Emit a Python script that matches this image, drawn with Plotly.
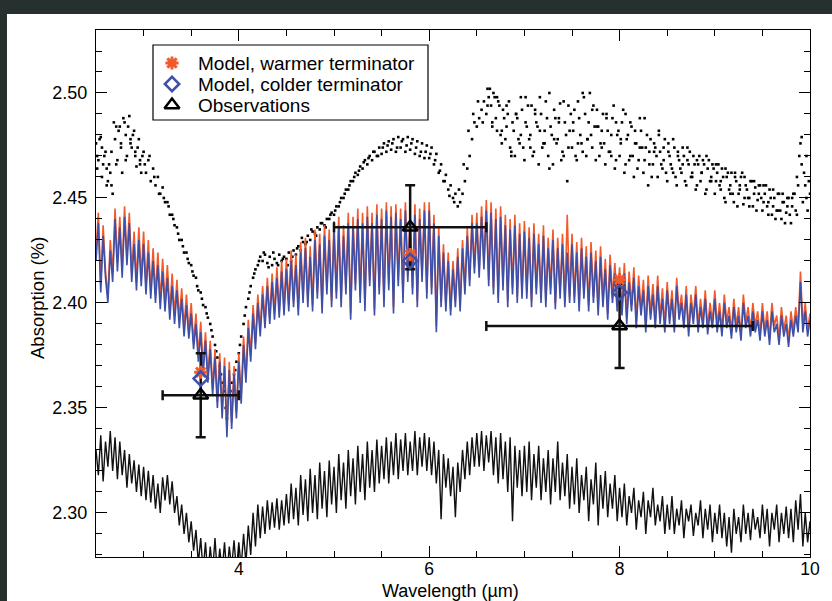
import numpy as np
import plotly.graph_objects as go

# wavelength sampling grids (micron)
wl = np.round(np.linspace(2.5, 10.0, 301), 4)
wl_b = np.round(np.linspace(2.5125, 9.9625, 150), 4)
wl_c = np.round(np.concatenate([np.linspace(2.5125, 2.9875, 20), np.linspace(6.6125, 9.9875, 136)]), 4)

# Model spectrum, warmer terminator (%)
warm = [
    2.425, 2.443, 2.408, 2.437, 2.415, 2.403, 2.430, 2.414, 2.445, 2.419, 2.441, 2.416, 2.446, 2.422, 2.443, 2.414, 2.434, 2.410, 2.436, 2.412,
    2.434, 2.408, 2.430, 2.406, 2.426, 2.404, 2.424, 2.401, 2.421, 2.400, 2.418, 2.396, 2.414, 2.394, 2.411, 2.392, 2.407, 2.388, 2.404, 2.386,
    2.400, 2.381, 2.395, 2.375, 2.391, 2.369, 2.386, 2.365, 2.382, 2.359, 2.378, 2.353, 2.376, 2.348, 2.374, 2.340, 2.372, 2.343, 2.370, 2.348,
    2.376, 2.355, 2.384, 2.365, 2.392, 2.375, 2.399, 2.381, 2.404, 2.387, 2.408, 2.391, 2.412, 2.393, 2.414, 2.395, 2.417, 2.396, 2.420, 2.397,
    2.421, 2.399, 2.425, 2.401, 2.423, 2.397, 2.429, 2.403, 2.431, 2.401, 2.427, 2.399, 2.435, 2.405, 2.433, 2.398, 2.437, 2.407, 2.435, 2.401,
    2.439, 2.405, 2.441, 2.401, 2.437, 2.407, 2.443, 2.395, 2.441, 2.409, 2.445, 2.403, 2.443, 2.399, 2.446, 2.411, 2.443, 2.397, 2.447, 2.407,
    2.445, 2.401, 2.448, 2.409, 2.446, 2.398, 2.447, 2.411, 2.445, 2.403, 2.448, 2.413, 2.443, 2.407, 2.447, 2.401, 2.445, 2.413, 2.448, 2.405,
    2.448, 2.407, 2.442, 2.389, 2.436, 2.401, 2.428, 2.399, 2.424, 2.397, 2.420, 2.401, 2.426, 2.399, 2.430, 2.407, 2.436, 2.411, 2.442, 2.417,
    2.443, 2.415, 2.446, 2.419, 2.449, 2.411, 2.448, 2.407, 2.445, 2.403, 2.446, 2.409, 2.442, 2.401, 2.440, 2.407, 2.442, 2.403, 2.438, 2.405,
    2.439, 2.405, 2.436, 2.401, 2.438, 2.407, 2.433, 2.403, 2.437, 2.401, 2.431, 2.407, 2.435, 2.400, 2.431, 2.405, 2.433, 2.401, 2.442, 2.403,
    2.433, 2.403, 2.429, 2.399, 2.431, 2.405, 2.427, 2.399, 2.429, 2.403, 2.425, 2.397, 2.427, 2.401, 2.421, 2.395, 2.423, 2.403, 2.419, 2.399,
    2.417, 2.397, 2.419, 2.393, 2.415, 2.399, 2.417, 2.391, 2.413, 2.397, 2.411, 2.389, 2.413, 2.395, 2.409, 2.391, 2.413, 2.393, 2.407, 2.389,
    2.410, 2.393, 2.406, 2.389, 2.412, 2.395, 2.404, 2.391, 2.408, 2.387, 2.404, 2.393, 2.408, 2.389, 2.402, 2.391, 2.406, 2.388, 2.400, 2.391,
    2.406, 2.389, 2.400, 2.387, 2.404, 2.391, 2.398, 2.386, 2.402, 2.389, 2.398, 2.385, 2.404, 2.391, 2.398, 2.387, 2.400, 2.389, 2.396, 2.385,
    2.400, 2.387, 2.396, 2.383, 2.400, 2.389, 2.394, 2.383, 2.398, 2.387, 2.394, 2.382, 2.396, 2.387, 2.398, 2.389, 2.415, 2.389, 2.400, 2.387, 2.395,
]

# Model spectrum, colder terminator (%)
cold = [
    2.420, 2.438, 2.405, 2.432, 2.412, 2.400, 2.425, 2.410, 2.440, 2.415, 2.436, 2.412, 2.441, 2.418, 2.438, 2.410, 2.428, 2.406, 2.430, 2.408,
    2.428, 2.404, 2.424, 2.402, 2.420, 2.400, 2.418, 2.397, 2.415, 2.396, 2.412, 2.392, 2.408, 2.390, 2.406, 2.388, 2.402, 2.384, 2.399, 2.383,
    2.395, 2.378, 2.390, 2.372, 2.386, 2.366, 2.382, 2.362, 2.378, 2.356, 2.374, 2.350, 2.372, 2.345, 2.370, 2.336, 2.368, 2.340, 2.366, 2.345,
    2.372, 2.352, 2.380, 2.362, 2.388, 2.372, 2.395, 2.378, 2.400, 2.384, 2.404, 2.388, 2.408, 2.390, 2.410, 2.392, 2.412, 2.393, 2.415, 2.394,
    2.416, 2.396, 2.420, 2.398, 2.418, 2.394, 2.424, 2.400, 2.426, 2.398, 2.422, 2.396, 2.430, 2.402, 2.428, 2.395, 2.432, 2.404, 2.430, 2.398,
    2.434, 2.402, 2.436, 2.398, 2.432, 2.404, 2.438, 2.392, 2.436, 2.406, 2.440, 2.400, 2.438, 2.396, 2.441, 2.408, 2.438, 2.394, 2.442, 2.404,
    2.440, 2.398, 2.444, 2.406, 2.441, 2.395, 2.443, 2.408, 2.440, 2.400, 2.444, 2.410, 2.438, 2.404, 2.442, 2.398, 2.440, 2.410, 2.444, 2.402,
    2.444, 2.404, 2.438, 2.386, 2.432, 2.398, 2.424, 2.396, 2.420, 2.394, 2.416, 2.398, 2.422, 2.396, 2.426, 2.404, 2.432, 2.408, 2.438, 2.414,
    2.438, 2.412, 2.441, 2.416, 2.444, 2.408, 2.443, 2.404, 2.440, 2.400, 2.441, 2.406, 2.437, 2.398, 2.435, 2.404, 2.437, 2.400, 2.433, 2.402,
    2.434, 2.402, 2.431, 2.398, 2.433, 2.404, 2.428, 2.400, 2.432, 2.398, 2.426, 2.404, 2.430, 2.397, 2.426, 2.402, 2.428, 2.398, 2.424, 2.400,
    2.428, 2.400, 2.424, 2.396, 2.426, 2.402, 2.422, 2.396, 2.424, 2.400, 2.420, 2.394, 2.422, 2.398, 2.416, 2.392, 2.418, 2.400, 2.414, 2.396,
    2.412, 2.394, 2.414, 2.390, 2.410, 2.396, 2.412, 2.388, 2.408, 2.394, 2.406, 2.386, 2.408, 2.392, 2.404, 2.388, 2.408, 2.390, 2.402, 2.386,
    2.406, 2.390, 2.402, 2.386, 2.408, 2.392, 2.400, 2.388, 2.404, 2.384, 2.400, 2.390, 2.404, 2.386, 2.398, 2.388, 2.402, 2.385, 2.396, 2.388,
    2.402, 2.386, 2.396, 2.384, 2.400, 2.388, 2.394, 2.383, 2.398, 2.386, 2.394, 2.382, 2.400, 2.388, 2.394, 2.384, 2.396, 2.386, 2.392, 2.382,
    2.396, 2.384, 2.392, 2.380, 2.396, 2.386, 2.390, 2.380, 2.394, 2.384, 2.390, 2.379, 2.392, 2.384, 2.394, 2.386, 2.410, 2.386, 2.396, 2.384, 2.392,
]

# Lower black spectrum (%)
lower = [
    2.330, 2.318, 2.337, 2.315, 2.334, 2.322, 2.339, 2.320, 2.336, 2.316, 2.334, 2.318, 2.330, 2.312, 2.328, 2.314, 2.325, 2.310, 2.323, 2.308,
    2.322, 2.306, 2.320, 2.305, 2.318, 2.302, 2.314, 2.300, 2.317, 2.306, 2.318, 2.304, 2.315, 2.300, 2.308, 2.294, 2.304, 2.290, 2.300, 2.286,
    2.296, 2.282, 2.292, 2.276, 2.288, 2.272, 2.286, 2.270, 2.284, 2.272, 2.288, 2.270, 2.283, 2.272, 2.286, 2.270, 2.284, 2.274, 2.287, 2.272,
    2.286, 2.274, 2.290, 2.276, 2.294, 2.280, 2.300, 2.284, 2.304, 2.288, 2.303, 2.290, 2.306, 2.292, 2.305, 2.293, 2.307, 2.292, 2.306, 2.294,
    2.309, 2.295, 2.314, 2.297, 2.312, 2.294, 2.318, 2.299, 2.316, 2.296, 2.321, 2.300, 2.318, 2.297, 2.324, 2.302, 2.320, 2.298, 2.325, 2.304,
    2.322, 2.300, 2.328, 2.306, 2.324, 2.302, 2.330, 2.308, 2.326, 2.304, 2.332, 2.310, 2.328, 2.306, 2.334, 2.312, 2.330, 2.310, 2.335, 2.314,
    2.332, 2.316, 2.336, 2.314, 2.334, 2.318, 2.338, 2.316, 2.335, 2.320, 2.338, 2.318, 2.334, 2.320, 2.339, 2.318, 2.336, 2.322, 2.338, 2.320,
    2.336, 2.318, 2.334, 2.314, 2.330, 2.297, 2.328, 2.312, 2.326, 2.308, 2.322, 2.298, 2.324, 2.310, 2.330, 2.316, 2.334, 2.318, 2.336, 2.322,
    2.338, 2.322, 2.339, 2.320, 2.337, 2.324, 2.339, 2.318, 2.336, 2.314, 2.338, 2.316, 2.334, 2.310, 2.336, 2.296, 2.332, 2.312, 2.330, 2.308,
    2.332, 2.310, 2.334, 2.306, 2.328, 2.312, 2.332, 2.306, 2.326, 2.310, 2.330, 2.304, 2.326, 2.310, 2.334, 2.306, 2.324, 2.308, 2.328, 2.302,
    2.322, 2.304, 2.326, 2.300, 2.318, 2.306, 2.322, 2.296, 2.316, 2.304, 2.324, 2.294, 2.318, 2.302, 2.320, 2.298, 2.314, 2.302, 2.318, 2.296,
    2.312, 2.298, 2.314, 2.294, 2.308, 2.300, 2.312, 2.292, 2.306, 2.298, 2.310, 2.290, 2.306, 2.298, 2.312, 2.294, 2.304, 2.296, 2.308, 2.290,
    2.304, 2.292, 2.308, 2.290, 2.302, 2.294, 2.306, 2.288, 2.302, 2.296, 2.304, 2.289, 2.300, 2.294, 2.306, 2.288, 2.302, 2.292, 2.304, 2.286,
    2.300, 2.290, 2.304, 2.288, 2.300, 2.284, 2.298, 2.281, 2.302, 2.290, 2.298, 2.286, 2.304, 2.290, 2.300, 2.287, 2.302, 2.292, 2.298, 2.288,
    2.304, 2.290, 2.302, 2.284, 2.300, 2.292, 2.304, 2.286, 2.300, 2.290, 2.303, 2.288, 2.302, 2.286, 2.306, 2.292, 2.309, 2.284, 2.300, 2.286, 2.296,
]

# Upper dotted spectrum (%), on the main grid
dots_a = [
    2.476, 2.468, 2.479, 2.466, 2.472, 2.458, 2.462, 2.452, 2.478, 2.468, 2.484, 2.462, 2.486, 2.470, 2.489, 2.474, 2.482, 2.465, 2.478, 2.462,
    2.472, 2.462, 2.468, 2.458, 2.464, 2.456, 2.460, 2.452, 2.455, 2.448, 2.448, 2.442, 2.442, 2.437, 2.436, 2.430, 2.430, 2.424, 2.424, 2.419,
    2.418, 2.413, 2.412, 2.406, 2.405, 2.399, 2.398, 2.393, 2.390, 2.384, 2.380, 2.374, 2.370, 2.362, 2.358, 2.345, 2.356, 2.362, 2.366, 2.372,
    2.376, 2.384, 2.390, 2.398, 2.402, 2.408, 2.412, 2.416, 2.418, 2.422, 2.420, 2.423, 2.419, 2.422, 2.418, 2.421, 2.419, 2.423, 2.420, 2.422,
    2.421, 2.424, 2.420, 2.425, 2.423, 2.427, 2.425, 2.429, 2.428, 2.432, 2.430, 2.434, 2.433, 2.436, 2.435, 2.438, 2.437, 2.440, 2.440, 2.443,
    2.442, 2.446, 2.446, 2.450, 2.450, 2.454, 2.454, 2.458, 2.458, 2.462, 2.461, 2.465, 2.464, 2.468, 2.466, 2.470, 2.468, 2.472, 2.470, 2.474,
    2.471, 2.476, 2.472, 2.477, 2.473, 2.478, 2.472, 2.479, 2.474, 2.478, 2.472, 2.479, 2.473, 2.478, 2.471, 2.477, 2.470, 2.476, 2.469, 2.475,
    2.469, 2.474, 2.466, 2.471, 2.462, 2.466, 2.458, 2.461, 2.454, 2.456, 2.450, 2.452, 2.446, 2.448, 2.452, 2.458, 2.464, 2.470, 2.478, 2.486,
    2.484, 2.488, 2.492, 2.496, 2.490, 2.498, 2.494, 2.500, 2.488, 2.496, 2.480, 2.492, 2.478, 2.490, 2.474, 2.486, 2.470, 2.488, 2.476, 2.492,
    2.468, 2.484, 2.478, 2.494, 2.472, 2.486, 2.466, 2.490, 2.476, 2.496, 2.470, 2.484, 2.466, 2.488, 2.478, 2.495, 2.472, 2.486, 2.458, 2.482,
    2.474, 2.492, 2.468, 2.488, 2.476, 2.498, 2.470, 2.486, 2.480, 2.494, 2.468, 2.484, 2.476, 2.490, 2.466, 2.482, 2.472, 2.488, 2.464, 2.480,
    2.470, 2.486, 2.462, 2.478, 2.468, 2.484, 2.460, 2.476, 2.468, 2.482, 2.462, 2.474, 2.456, 2.478, 2.466, 2.474, 2.460, 2.472, 2.464, 2.478,
    2.458, 2.470, 2.464, 2.474, 2.456, 2.468, 2.462, 2.470, 2.456, 2.466, 2.460, 2.470, 2.454, 2.466, 2.458, 2.468, 2.452, 2.464, 2.458, 2.466,
    2.452, 2.462, 2.456, 2.464, 2.450, 2.460, 2.454, 2.462, 2.448, 2.458, 2.452, 2.460, 2.447, 2.456, 2.450, 2.458, 2.446, 2.455, 2.449, 2.456,
    2.444, 2.452, 2.446, 2.454, 2.442, 2.450, 2.444, 2.452, 2.440, 2.448, 2.443, 2.450, 2.438, 2.452, 2.444, 2.456, 2.476, 2.448, 2.456, 2.444, 2.452,
]

# Upper dotted spectrum (%), extra samples on the offset grid
dots_b = [
    2.470, 2.474, 2.464, 2.456, 2.484, 2.476, 2.480, 2.478, 2.472, 2.468,
    2.466, 2.470, 2.460, 2.452, 2.450, 2.446, 2.440, 2.433, 2.427, 2.421,
    2.415, 2.408, 2.402, 2.395, 2.387, 2.377, 2.366, 2.350, 2.358, 2.368,
    2.380, 2.394, 2.405, 2.414, 2.420, 2.424, 2.417, 2.424, 2.418, 2.421,
    2.418, 2.422, 2.426, 2.431, 2.429, 2.435, 2.432, 2.438, 2.436, 2.442,
    2.444, 2.448, 2.452, 2.456, 2.460, 2.463, 2.467, 2.469, 2.472, 2.470,
    2.474, 2.475, 2.476, 2.474, 2.477, 2.475, 2.476, 2.474, 2.472, 2.472,
    2.471, 2.468, 2.463, 2.458, 2.451, 2.448, 2.454, 2.466, 2.482, 2.490,
    2.496, 2.486, 2.502, 2.484, 2.498, 2.482, 2.494, 2.472, 2.490, 2.480,
    2.498, 2.474, 2.490, 2.482, 2.476, 2.500, 2.478, 2.488, 2.470, 2.494,
    2.482, 2.476, 2.500, 2.478, 2.492, 2.484, 2.474, 2.490, 2.470, 2.486,
    2.476, 2.490, 2.470, 2.482, 2.474, 2.488, 2.466, 2.472, 2.480, 2.468,
    2.476, 2.462, 2.472, 2.466, 2.474, 2.460, 2.468, 2.462, 2.470, 2.458,
    2.466, 2.458, 2.464, 2.452, 2.462, 2.454, 2.460, 2.450, 2.458, 2.452,
    2.456, 2.448, 2.454, 2.444, 2.452, 2.446, 2.450, 2.442, 2.466, 2.470,
]

# Upper dotted spectrum (%), extra scatter in the two broad bands
dots_c = [
    2.464, 2.478, 2.460, 2.470, 2.456, 2.466, 2.472, 2.486, 2.466, 2.482, 2.474, 2.488, 2.468, 2.484, 2.476, 2.480, 2.470, 2.474, 2.466, 2.470,
    2.494, 2.502, 2.486, 2.498, 2.482, 2.494, 2.476, 2.488, 2.484, 2.496, 2.470, 2.482, 2.490, 2.478, 2.498, 2.474,
    2.486, 2.494, 2.480, 2.470, 2.492, 2.484, 2.498, 2.474, 2.482, 2.488, 2.464, 2.480, 2.492, 2.476, 2.486, 2.468, 2.496, 2.480, 2.474, 2.490,
    2.486, 2.470, 2.496, 2.480, 2.472, 2.490, 2.478, 2.500, 2.474, 2.484, 2.492, 2.470, 2.482, 2.476, 2.488, 2.472, 2.480, 2.494, 2.468, 2.482,
    2.478, 2.492, 2.466, 2.480, 2.486, 2.470, 2.476, 2.464, 2.488, 2.474, 2.468, 2.480, 2.472, 2.460, 2.476, 2.470, 2.482, 2.466, 2.474, 2.462,
    2.472, 2.466, 2.478, 2.460, 2.470, 2.464, 2.474, 2.458, 2.468, 2.472, 2.462, 2.466, 2.456, 2.470, 2.462, 2.466, 2.454, 2.468, 2.460, 2.464,
    2.458, 2.466, 2.454, 2.460, 2.448, 2.462, 2.456, 2.452, 2.460, 2.446, 2.456, 2.462, 2.450, 2.454, 2.446, 2.458, 2.452, 2.444, 2.456, 2.450,
    2.448, 2.456, 2.442, 2.450, 2.446, 2.440, 2.452, 2.444, 2.448, 2.438, 2.450, 2.442, 2.446, 2.452, 2.460, 2.470, 2.479, 2.462, 2.450, 2.458,
]

assert len(warm) == len(wl) and len(cold) == len(wl) and len(lower) == len(wl) and len(dots_a) == len(wl)
assert len(dots_b) == len(wl_b) and len(dots_c) == len(wl_c)

# Binned model values and observations
bin_wl = [3.6, 5.8, 8.0]
model_warm = [2.367, 2.423, 2.411]
model_cold = [2.364, 2.420, 2.405]
obs_val = [2.356, 2.436, 2.389]
obs_err = [0.020, 0.020, 0.020]
obs_halfwidth = [0.4, 0.8, 1.4]

# legend entries
legend_labels = ["Model, warmer terminator", "Model, colder terminator", "Observations"]

# tick values
x_ticks = [4, 6, 8, 10]
y_ticks = [2.30, 2.35, 2.40, 2.45, 2.50]

ORANGE = "#F15A2B"
BLUE = "#3E4FA8"
FONT = "Liberation Sans, Arial, Helvetica, sans-serif"

warm_marker = dict(symbol="asterisk-open", size=11, color=ORANGE, line=dict(width=3, color=ORANGE))
cold_marker = dict(symbol="diamond-open", size=11, color=BLUE, line=dict(width=2.5, color=BLUE))
obs_marker = dict(symbol="triangle-up-open", size=13, color="black", line=dict(width=2.5, color="black"))

fig = go.Figure()

fig.add_trace(go.Scatter(x=np.concatenate([wl, wl_b, wl_c]), y=dots_a + dots_b + dots_c, mode="markers",
                         marker=dict(symbol="square", size=2.6, color="black", line=dict(width=0)),
                         showlegend=False, hoverinfo="skip"))
fig.add_trace(go.Scatter(x=wl, y=lower, mode="lines", line=dict(color="#111111", width=1.4),
                         showlegend=False, hoverinfo="skip"))
fig.add_trace(go.Scatter(x=wl, y=warm, mode="lines", line=dict(color=ORANGE, width=1.6),
                         showlegend=False, hoverinfo="skip"))
fig.add_trace(go.Scatter(x=wl, y=cold, mode="lines", line=dict(color=BLUE, width=1.6),
                         showlegend=False, hoverinfo="skip"))

fig.add_trace(go.Scatter(
    x=bin_wl, y=obs_val, mode="markers", name=legend_labels[2], showlegend=False, marker=obs_marker,
    error_y=dict(type="data", array=obs_err, color="#111111", thickness=2.5, width=5),
    error_x=dict(type="data", array=obs_halfwidth, color="#111111", thickness=2.5, width=5),
))
fig.add_trace(go.Scatter(x=bin_wl, y=model_warm, mode="markers", name=legend_labels[0],
                         showlegend=False, marker=warm_marker))
fig.add_trace(go.Scatter(x=bin_wl, y=model_cold, mode="markers", name=legend_labels[1],
                         showlegend=False, marker=cold_marker))

# ---- page / plot-area geometry in pixels: plot area x 96..810, y 30..557 ----
PW, PH = 714.0, 527.0
def px(xp):
    return (xp - 96) / PW
def py(yp):
    return 1 - (yp - 30) / PH

# white page panel on the dark background (drawn first, lowest)
fig.add_shape(type="rect", xref="paper", yref="paper", x0=px(7), x1=px(832), y0=py(601), y1=py(14),
              fillcolor="white", line=dict(width=0), layer="below")

# ---- legend drawn on a hidden pixel-based overlay axis (layout only) ----
LEG_X0, LEG_X1, LEG_Y0, LEG_Y1 = 153, 428, 45, 120
LEG_ROWS = [63, 84, 105]
LEG_SYM_X, LEG_TEXT_X = 172, 196
fig.add_shape(type="rect", xref="x2", yref="y2", x0=LEG_X0, x1=LEG_X1, y0=LEG_Y0, y1=LEG_Y1,
              fillcolor="white", line=dict(color="black", width=1.2), layer="below")
for row_y, mk in zip(LEG_ROWS, [warm_marker, cold_marker, obs_marker]):
    fig.add_trace(go.Scatter(x=[LEG_SYM_X], y=[row_y], xaxis="x2", yaxis="y2", mode="markers",
                             marker=mk, showlegend=False, hoverinfo="skip"))
for row_y, label in zip(LEG_ROWS, legend_labels):
    fig.add_annotation(text=label, xref="x2", yref="y2", x=LEG_TEXT_X, y=row_y, xanchor="left",
                       yanchor="middle", showarrow=False, font=dict(size=19, color="black", family=FONT))

fig.add_annotation(text="Wavelength (µm)", xref="paper", yref="paper", x=px(450), y=py(591),
                   xanchor="center", yanchor="middle", showarrow=False, font=dict(size=18, color="black", family=FONT))
fig.add_annotation(text="Absorption (%)", xref="paper", yref="paper", x=px(37), y=py(298), textangle=-90,
                   xanchor="center", yanchor="middle", showarrow=False, font=dict(size=18.5, color="black", family=FONT))

axis_common = dict(showline=True, linecolor="black", linewidth=1.3, mirror="ticks", ticks="inside",
                   tickcolor="black", tickwidth=1.2, ticklen=11, showgrid=False, zeroline=False)

fig.update_layout(
    width=832, height=601,
    margin=dict(l=96, r=22, t=30, b=44),
    paper_bgcolor="#25302f",
    plot_bgcolor="white",
    font=dict(family=FONT, size=18, color="black"),
    showlegend=False,
    xaxis=dict(range=[2.5, 10.0], tickmode="array", tickvals=x_ticks, ticktext=[str(v) for v in x_ticks],
               ticklabelstandoff=-4, tickfont=dict(size=17.5, color="black", family=FONT),
               minor=dict(dtick=0.5, tick0=0, ticks="inside", ticklen=6, tickcolor="black", tickwidth=1.2),
               **axis_common),
    yaxis=dict(range=[2.279, 2.530], tickmode="array", tickvals=y_ticks, ticktext=[f"{v:.2f}" for v in y_ticks],
               ticklabelstandoff=4, tickfont=dict(size=18, color="black", family=FONT),
               minor=dict(dtick=0.01, tick0=2.3, ticks="inside", ticklen=6, tickcolor="black", tickwidth=1.2),
               **axis_common),
    xaxis2=dict(overlaying="x", anchor="y2", range=[96, 810], visible=False, fixedrange=True),
    yaxis2=dict(overlaying="y", anchor="x2", range=[557, 30], visible=False, fixedrange=True),
)

fig.write_html("out.html")
